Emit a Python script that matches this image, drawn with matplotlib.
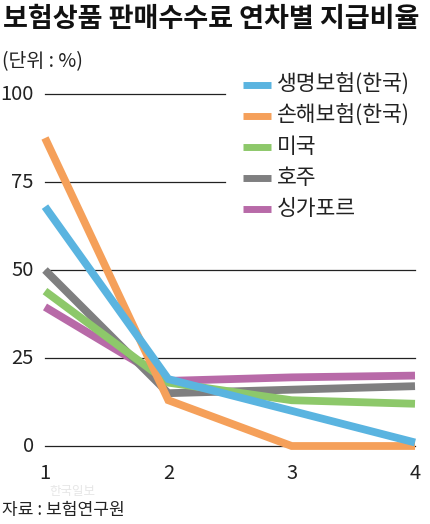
import matplotlib
matplotlib.use("Agg")
import matplotlib.pyplot as plt

plt.rcParams['font.family'] = ['Noto Sans CJK KR', 'DejaVu Sans']

# 연차 (years)
years = [1, 2, 3, 4]
series_names = ["생명보험(한국)", "손해보험(한국)", "미국", "호주", "싱가포르"]
life_kr = [68, 19, 10, 1]
nonlife_kr = [87.5, 13, 0, 0]
usa = [44, 18, 13, 12]
australia = [50, 15, 16, 17]
singapore = [39.5, 18.5, 19.5, 20]
colors = ["#5ab4e0", "#f5a05a", "#8dc86a", "#7f7f80", "#b86aa8"]

y_ticks = [0, 25, 50, 75, 100]

fig = plt.figure(figsize=(4.30, 5.24), dpi=100)
ax = fig.add_axes([45 / 430, 1 - 446 / 524, 370 / 430, 352 / 524])
ax.set_xlim(1, 4)
ax.set_ylim(0, 100)
for s in ax.spines.values():
    s.set_visible(False)
ax.set_xticks([])
ax.set_yticks([])

# grid lines (upper two stop short of the legend)
for yv in y_ticks:
    x_end = 2.46 if yv >= 75 else 4.0
    ax.plot([1, x_end], [yv, yv], color="#222222", lw=0.9, zorder=1, clip_on=False)
    ax.text(0.91, yv, str(yv), ha="right", va="center", fontsize=14.5, color="#222222")

for x in years:
    ax.text(x, -7.8, str(x), ha="center", va="center", fontsize=14.5, color="#222222")

data = [life_kr, nonlife_kr, usa, australia, singapore]
# draw order: purple, gray, green, orange, blue on top
order = [4, 3, 2, 1, 0]
for z, i in enumerate(order):
    ax.plot(years, data[i], color=colors[i], lw=5.6, zorder=3 + z,
            solid_capstyle="butt", solid_joinstyle="miter", clip_on=False)

# legend drawn by hand
for k, (name, c) in enumerate(zip(series_names, colors)):
    yy = 1 - (85 + k * 31) / 524
    fig.add_artist(plt.Line2D([243 / 430, 271 / 430], [yy, yy], color=c, lw=5.0,
                              solid_capstyle="butt"))
    fig.text(277 / 430, yy, name, ha="left", va="center", fontsize=15.5, color="#222222")

fig.text(3 / 430, 1 - 19 / 524, "보험상품 판매수수료 연차별 지급비율", ha="left", va="center",
         fontsize=19.5, fontweight="bold", color="#111111")
fig.text(2 / 430, 1 - 62 / 524, "(단위 : %)", ha="left", va="center", fontsize=14, color="#222222")
fig.text(72 / 430, 1 - 491 / 524, "한국일보", ha="center", va="center", fontsize=9,
         color="#e6e6e6", zorder=0)
fig.text(2 / 430, 1 - 510 / 524, "자료 : 보험연구원", ha="left", va="center", fontsize=12.3,
         color="#222222")

fig.savefig("out.png", dpi=100)
